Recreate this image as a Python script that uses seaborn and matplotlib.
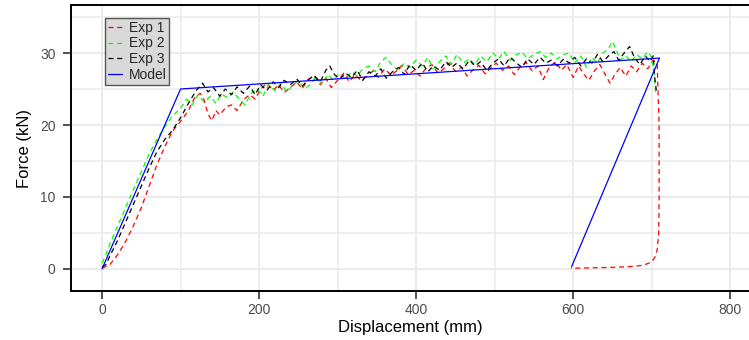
import numpy as np
import pandas as pd
import matplotlib
matplotlib.use("Agg")
import matplotlib.pyplot as plt
import seaborn as sns
from matplotlib.ticker import MultipleLocator

# ---------------- data ----------------
exp1_x = [0, 10, 20, 30, 40, 50, 60, 70, 80, 90, 100, 110, 118, 125, 130, 135, 140, 145, 150, 158,
          165, 172, 180, 188, 195, 202, 210, 218, 225, 232, 240, 248, 255, 262, 270, 278, 285, 292,
          300, 308, 315, 322, 330, 338, 345, 352, 360, 368, 375, 382, 390, 398, 405, 412, 420, 428,
          435, 442, 450, 458, 465, 472, 480, 488, 495, 502, 510, 518, 525, 532, 540, 548, 555, 562,
          570, 578, 585, 592, 600, 607, 614, 620, 627, 634, 640, 647, 653, 660, 667, 674, 681, 688,
          695, 702, 707, 709.5, 709.5, 709, 707, 704, 700, 694, 685, 668, 640, 620, 597]
exp1_y = [0.1, 0.6, 2.0, 3.8, 6.0, 8.5, 11.5, 14.5, 17.0, 19.2, 20.5, 22.0, 23.8, 24.4, 23.5, 21.5,
          20.6, 22.0, 21.4, 22.5, 22.8, 22.0, 23.5, 24.2, 23.6, 25.0, 25.8, 24.8, 25.6, 24.5, 25.2,
          26.0, 25.0, 26.3, 26.8, 25.6, 26.5, 25.2, 26.2, 27.2, 26.0, 27.0, 26.2, 26.8, 27.5, 26.6,
          27.8, 26.9, 27.5, 28.3, 27.0, 27.6, 26.8, 27.8, 28.4, 27.2, 27.8, 28.6, 27.5, 28.0, 26.8,
          27.6, 28.3, 27.1, 27.9, 28.6, 27.6, 28.2, 27.0, 28.0, 28.7, 27.5, 28.2, 26.3, 28.1, 28.8,
          27.6, 28.4, 26.6, 28.2, 27.0, 26.2, 27.5, 28.4, 27.2, 25.8, 27.0, 28.0, 26.8, 28.2, 27.4,
          28.6, 27.8, 29.0, 28.6, 20.0, 10.0, 5.0, 2.6, 1.6, 1.0, 0.7, 0.45, 0.3, 0.2, 0.15, 0.1]

exp2_x = [0, 5, 10, 20, 30, 40, 50, 60, 70, 80, 90, 100, 108, 115, 122, 130, 138, 145, 152, 160,
          167, 175, 182, 190, 198, 205, 212, 220, 228, 235, 242, 250, 258, 265, 272, 280, 288, 295,
          302, 310, 318, 325, 332, 340, 348, 355, 362, 370, 378, 385, 392, 400, 408, 415, 422, 430,
          438, 445, 452, 460, 468, 475, 482, 490, 498, 505, 512, 520, 528, 535, 542, 550, 558, 565,
          572, 580, 588, 595, 602, 610, 617, 624, 631, 638, 645, 650, 655, 660, 667, 674, 681, 688,
          695, 700, 703, 705]
exp2_y = [0.8, 2.0, 3.5, 6.0, 8.5, 11.0, 13.5, 16.0, 18.0, 19.8, 21.3, 22.3, 23.6, 22.8, 24.2, 23.2,
          24.0, 23.0, 24.3, 23.8, 24.6, 23.6, 22.8, 24.4, 25.0, 24.0, 25.6, 24.8, 25.8, 24.6, 25.4,
          26.2, 25.0, 25.6, 26.6, 25.8, 27.0, 26.2, 27.2, 26.4, 27.4, 26.8, 27.8, 28.2, 27.4, 28.8,
          29.4, 28.2, 27.6, 28.6, 28.0, 29.0, 28.2, 29.4, 27.8, 28.8, 29.6, 28.4, 29.8, 28.6, 29.2,
          28.4, 29.6, 28.8, 30.0, 29.2, 30.2, 29.0, 29.8, 30.1, 29.2, 29.8, 30.2, 29.4, 30.0, 29.2,
          29.8, 30.0, 28.6, 29.6, 28.0, 29.4, 28.6, 30.0, 30.6, 31.6, 30.4, 29.0, 29.6, 28.8, 29.8,
          29.2, 30.2, 29.4, 27.5, 24.6]

exp3_x = [0, 5, 10, 20, 30, 40, 50, 60, 70, 80, 90, 100, 110, 120, 128, 135, 142, 150, 157, 165,
          172, 180, 188, 195, 202, 210, 218, 225, 232, 240, 248, 255, 262, 270, 278, 285, 290, 296,
          303, 310, 318, 325, 332, 340, 348, 355, 362, 370, 378, 385, 392, 400, 408, 415, 422, 430,
          438, 445, 452, 460, 468, 475, 482, 490, 498, 505, 512, 520, 528, 535, 542, 550, 558, 565,
          572, 580, 588, 595, 602, 610, 617, 624, 631, 638, 645, 652, 658, 665, 672, 678, 685, 692,
          698, 702, 704, 706]
exp3_y = [0.3, 0.6, 1.8, 4.0, 6.5, 9.0, 11.5, 14.0, 16.3, 18.0, 19.3, 21.0, 23.0, 24.8, 25.8, 24.6,
          25.2, 24.0, 25.0, 24.2, 25.3, 24.4, 25.4, 24.2, 25.6, 24.8, 26.0, 25.2, 26.2, 25.6, 26.4,
          25.4, 26.2, 26.9, 26.0, 27.6, 28.2, 27.0, 26.4, 27.2, 26.6, 27.6, 26.2, 27.4, 26.8, 27.8,
          26.5, 27.4, 28.0, 27.0, 28.4, 27.6, 28.6, 27.4, 28.2, 27.6, 28.8, 28.0, 28.6, 27.8, 29.0,
          28.2, 28.8, 27.6, 28.6, 29.2, 28.2, 29.4, 28.6, 28.0, 29.2, 28.4, 29.4, 28.6, 29.0, 28.2,
          29.2, 28.6, 29.4, 28.2, 29.2, 28.6, 29.8, 28.8, 29.6, 30.2, 29.0, 30.0, 30.9, 29.4, 28.4,
          29.6, 28.8, 29.6, 26.5, 24.8]

model_x = [0, 100, 710, 598]
model_y = [0.0, 25.0, 29.3, 0.3]

series_names = ["Exp 1", "Exp 2", "Exp 3", "Model"]
series_colors = ["#FF0000", "#00FF00", "#000000", "#0000FF"]

x_ticks = [0, 200, 400, 600, 800]
y_ticks = [0, 10, 20, 30]

# ---------------- plotting ----------------
sns.set_theme(style="white")
plt.rcParams['font.family'] = ['Liberation Sans', 'DejaVu Sans']

W, H = 749, 340
fig = plt.figure(figsize=(W / 100, H / 100), dpi=100)
ax = fig.add_axes([71 / W, (340 - 291) / H, 1 - 71 / W, (291 - 5) / H])

data = [(exp1_x, exp1_y), (exp2_x, exp2_y), (exp3_x, exp3_y), (model_x, model_y)]
for (xs, ys), name, col in zip(data, series_names, series_colors):
    df = pd.DataFrame({"x": xs, "y": ys})
    sns.lineplot(data=df, x="x", y="y", sort=False, estimator=None, ax=ax,
                 color=col, linewidth=0.9, label=name)

for line in ax.get_lines()[:3]:
    line.set_dashes((4, 3))

ax.set_xlim(-39.5, 824)
ax.set_ylim(-3.06, 36.67)
ax.set_xticks(x_ticks)
ax.set_yticks(y_ticks)
ax.xaxis.set_minor_locator(MultipleLocator(100))
ax.yaxis.set_minor_locator(MultipleLocator(5))
ax.grid(True, which="major", color="#ebebeb", linewidth=1.4)
ax.grid(True, which="minor", color="#ebebeb", linewidth=1.1)
ax.set_axisbelow(True)

for s in ["left", "bottom", "top"]:
    ax.spines[s].set_visible(True)
    ax.spines[s].set_color("black")
    ax.spines[s].set_linewidth(1.4)
ax.spines["right"].set_visible(False)

ax.tick_params(axis="both", which="major", direction="out", length=6, width=1.2,
               color="#333333", labelsize=10, labelcolor="#4d4d4d",
               bottom=True, left=True)
ax.tick_params(axis="x", which="major", pad=3)
ax.tick_params(axis="y", which="major", pad=5)
ax.tick_params(axis="both", which="minor", length=0)

ax.set_xlabel("Displacement (mm)", fontsize=12, color="black", labelpad=2)
ax.set_ylabel("Force (kN)", fontsize=12, color="black", labelpad=6)

leg = ax.legend(loc="upper left", bbox_to_anchor=((105 - 71) / 678, (291 - 18) / 286),
                borderaxespad=0, frameon=True, fancybox=False, fontsize=10,
                handlelength=1.0, handletextpad=0.5, borderpad=0.2, labelspacing=0.12)
frame = leg.get_frame()
frame.set_facecolor("#d9d9d9")
frame.set_edgecolor("#555555")
frame.set_linewidth(1.0)
frame.set_alpha(1)
for lh in leg.get_lines():
    lh.set_linewidth(0.9)

fig.savefig("out.png", dpi=100)
